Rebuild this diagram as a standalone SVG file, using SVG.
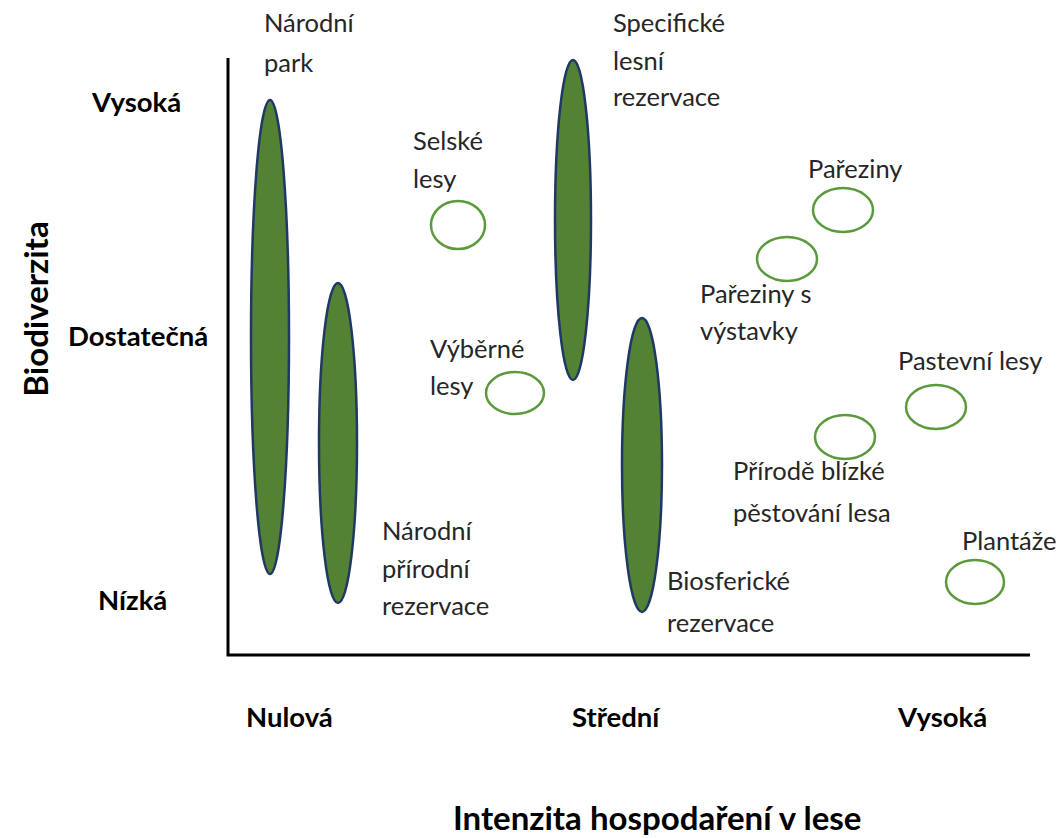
<svg xmlns="http://www.w3.org/2000/svg" width="1060" height="838" viewBox="0 0 1060 838">
<style>
.t{font-family:Lato,"Open Sans","Liberation Sans",sans-serif;font-size:25.5px;fill:#262626}
.b{font-family:Lato,"Open Sans","Liberation Sans",sans-serif;font-size:27.5px;font-weight:bold;fill:#000}
.big{font-size:33px}
.f{fill:#548235;stroke:#1f3864;stroke-width:2.5}
.o{fill:none;stroke:#5b9a3c;stroke-width:2.5}
</style>
<rect width="1060" height="838" fill="#fff"/>
<g id="axes"><path d="M228 58 V655 H1030" fill="none" stroke="#000" stroke-width="3"/></g>
<g id="axis-labels">
<text class="b" x="92" y="112">Vysoká</text>
<text class="b" x="68" y="346">Dostatečná</text>
<text class="b" x="98" y="610">Nízká</text>
<text class="b" transform="translate(48,309) rotate(-90)" text-anchor="middle" style="font-size:33px">Biodiverzita</text>
<text class="b" x="246" y="727">Nulová</text>
<text class="b" x="572" y="727">Střední</text>
<text class="b" x="898" y="727">Vysoká</text>
<text class="b big" x="453" y="830">Intenzita hospodaření v lese</text>
</g>
<g id="narodni-park"><ellipse class="f" cx="270" cy="337" rx="19" ry="237"/><text class="t" x="264" y="32">Národní</text><text class="t" x="264" y="72">park</text></g>
<g id="narodni-prirodni-rezervace"><ellipse class="f" cx="338" cy="443" rx="19" ry="160"/><text class="t" x="382" y="540">Národní</text><text class="t" x="382" y="578">přírodní</text><text class="t" x="382" y="615">rezervace</text></g>
<g id="specificke"><ellipse class="f" cx="573" cy="220" rx="18" ry="160"/><text class="t" x="613" y="32">Specifické</text><text class="t" x="613" y="70">lesní</text><text class="t" x="613" y="106">rezervace</text></g>
<g id="biosfericke"><ellipse class="f" cx="642" cy="465" rx="20" ry="147"/><text class="t" x="667" y="590">Biosferické</text><text class="t" x="667" y="632">rezervace</text></g>
<g id="selske"><ellipse class="o" cx="458" cy="225" rx="27" ry="24"/><text class="t" x="413" y="150">Selské</text><text class="t" x="413" y="188">lesy</text></g>
<g id="vyberne"><ellipse class="o" cx="515" cy="393" rx="29" ry="21"/><text class="t" x="430" y="358">Výběrné</text><text class="t" x="430" y="395">lesy</text></g>
<g id="parreziny"><ellipse class="o" cx="843" cy="210" rx="30" ry="22"/><text class="t" x="808" y="178">Pařeziny</text></g>
<g id="parreziny-s-vystavky"><ellipse class="o" cx="787" cy="259" rx="30" ry="22"/><text class="t" x="700" y="303">Pařeziny s</text><text class="t" x="700" y="340">výstavky</text></g>
<g id="pastevni"><ellipse class="o" cx="936" cy="407" rx="30" ry="22"/><text class="t" x="898" y="370">Pastevní lesy</text></g>
<g id="prirode-blizke"><ellipse class="o" cx="845" cy="437" rx="30" ry="22"/><text class="t" x="733" y="480">Přírodě blízké</text><text class="t" x="733" y="522">pěstování lesa</text></g>
<g id="plantaze"><ellipse class="o" cx="975" cy="582" rx="29" ry="22"/><text class="t" x="962" y="550">Plantáže</text></g>
<g id="connectors"></g>
</svg>
